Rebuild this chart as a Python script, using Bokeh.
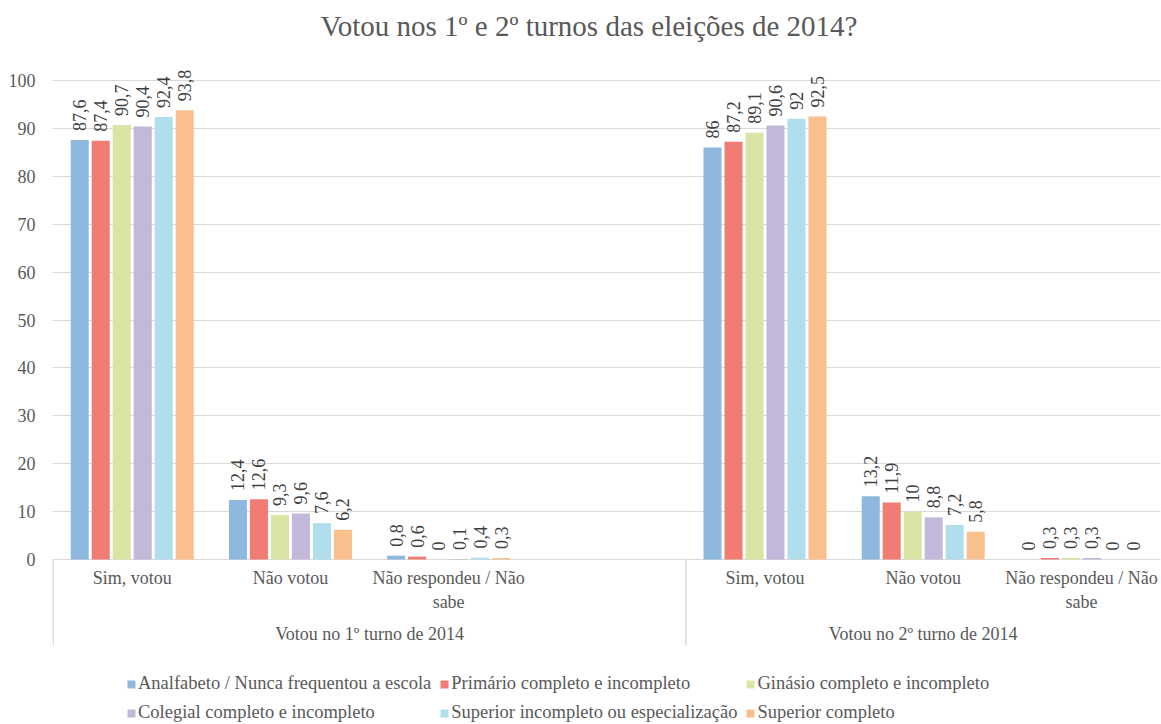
from math import pi
from bokeh.plotting import figure
from bokeh.models import Range1d, FixedTicker, Legend, LegendItem, ColumnDataSource
from bokeh.core.properties import value
from bokeh.embed import file_html
from bokeh.resources import INLINE

title = "Votou nos 1º e 2º turnos das eleições de 2014?"
groups = ["Votou no 1º turno de 2014", "Votou no 2º turno de 2014"]
categories = ["Sim, votou", "Não votou", "Não respondeu / Não\nsabe"]
series = [
    "Analfabeto / Nunca frequentou a escola",
    "Primário completo e incompleto",
    "Ginásio completo e incompleto",
    "Colegial completo e incompleto",
    "Superior incompleto ou especialização",
    "Superior completo",
]
colors = ["#8FB8DE", "#F07C74", "#DAE4A4", "#C2B8DA", "#B0DEEC", "#F9BF8C"]

turno1 = [
    [87.6, 12.4, 0.8],
    [87.4, 12.6, 0.6],
    [90.7, 9.3, 0.0],
    [90.4, 9.6, 0.1],
    [92.4, 7.6, 0.4],
    [93.8, 6.2, 0.3],
]
turno2 = [
    [86.0, 13.2, 0.0],
    [87.2, 11.9, 0.3],
    [89.1, 10.0, 0.3],
    [90.6, 8.8, 0.3],
    [92.0, 7.2, 0.0],
    [92.5, 5.8, 0.0],
]
yticks = list(range(0, 101, 10))

FONT_NAME = "Liberation Serif"
FONT = value(FONT_NAME)
FS = "18px"
W, H = 1161, 724
LEFT = 52
TOP = 48
px_per_unit = 4.79
zero_px = 559
y_lo = -(H - zero_px) / px_per_unit
y_hi = (zero_px - TOP) / px_per_unit

slots_per_group = [4, 3]
n_slots = sum(slots_per_group)
group_start = [0, slots_per_group[0]]

p = figure(width=W, height=H, output_backend="svg", toolbar_location=None,
           x_range=Range1d(-0.004, n_slots), y_range=Range1d(y_lo, y_hi),
           min_border_left=LEFT, min_border_right=1, min_border_top=TOP,
           min_border_bottom=0, outline_line_color=None)

p.title.text = title
p.title.text_font = FONT_NAME
p.title.text_font_size = "29px"
p.title.text_font_style = "normal"
p.title.text_color = "#595959"
p.title.align = "left"
p.title.offset = 268
p.title.standoff = 14

p.xaxis.visible = False
p.xgrid.visible = False
p.yaxis.ticker = FixedTicker(ticks=yticks)
p.yaxis.bounds = (0, 100)
p.yaxis.axis_line_color = None
p.yaxis.major_tick_line_color = None
p.yaxis.minor_tick_line_color = None
p.yaxis.major_label_text_font = FONT_NAME
p.yaxis.major_label_text_font_size = FS
p.yaxis.major_label_text_color = "#595959"
p.yaxis.major_label_standoff = 11
p.ygrid.ticker = FixedTicker(ticks=yticks)
p.ygrid.bounds = (0, 100)
p.ygrid.grid_line_color = "#D9D9D9"

pitch = 0.1327
bw = 0.114


def fmt(v):
    return ("%g" % v).replace(".", ",")


renderers = []
lx, ly, lt = [], [], []
for i, name in enumerate(series):
    xs, tops = [], []
    for g, vals in enumerate([turno1[i], turno2[i]]):
        for c, v in enumerate(vals):
            x = group_start[g] + c + 0.5 + (i - 2.5) * pitch
            xs.append(x)
            tops.append(v)
            lx.append(x)
            ly.append(v)
            lt.append(fmt(v))
    src = ColumnDataSource(dict(x=xs, top=tops))
    r = p.vbar(x="x", top="top", bottom=0, width=bw, source=src,
               fill_color=colors[i], line_color=None)
    renderers.append(r)

p.text(x=lx, y=ly, text=lt, angle=pi / 2, text_align="left",
       text_baseline="middle", y_offset=-9, text_font=FONT,
       text_font_size=FS, text_color="#404040")

cx, ct1, cx2, ct2 = [], [], [], []
for g in range(len(groups)):
    for c, cat in enumerate(categories):
        lines = cat.split("\n")
        cx.append(group_start[g] + c + 0.5)
        ct1.append(lines[0])
        if len(lines) > 1:
            cx2.append(group_start[g] + c + 0.5)
            ct2.append(lines[1])
p.text(x=cx, y=[0] * len(cx), text=ct1, text_align="center", text_baseline="middle",
       y_offset=18, text_font=FONT, text_font_size=FS, text_color="#595959")
p.text(x=cx2, y=[0] * len(cx2), text=ct2, text_align="center", text_baseline="middle",
       y_offset=42, text_font=FONT, text_font_size=FS, text_color="#595959")

gx = [group_start[g] + slots_per_group[g] / 2 for g in range(len(groups))]
p.text(x=gx, y=[0] * len(gx), text=groups, text_align="center",
       text_baseline="middle", y_offset=74, text_font=FONT,
       text_font_size=FS, text_color="#595959")

sep_len = 86 / px_per_unit
p.segment(x0=group_start, y0=[0] * len(group_start), x1=group_start,
          y1=[-sep_len] * len(group_start), line_color="#D9D9D9", line_width=1.5)

items = [LegendItem(label=s, renderers=[r]) for s, r in zip(series, renderers)]
legend = Legend(items=items, ncols=3, orientation="horizontal", location=(74, 1),
                glyph_width=10, glyph_height=10, label_text_font=FONT_NAME,
                label_text_font_size="18.5px", label_text_color="#595959",
                label_standoff=2, spacing=8, padding=0, margin=0,
                border_line_color=None, background_fill_alpha=0, label_height=20)
p.add_layout(legend)

open("out.html", "w").write(file_html(p, INLINE))
